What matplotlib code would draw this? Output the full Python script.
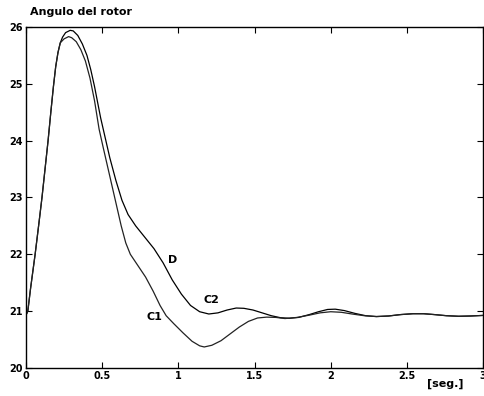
import numpy as np
import matplotlib.pyplot as plt

# curva D / C2 (superior)
t_d = [0, 0.012, 0.03, 0.06, 0.085, 0.105, 0.125, 0.145, 0.163, 0.18, 0.195, 0.21,
       0.225, 0.24, 0.26, 0.29, 0.31, 0.34, 0.37, 0.40, 0.425, 0.45, 0.49, 0.52,
       0.55, 0.59, 0.63, 0.67, 0.72, 0.78, 0.84, 0.90, 0.96, 1.02, 1.08, 1.14,
       1.20, 1.26, 1.32, 1.38, 1.43, 1.49, 1.55, 1.61, 1.67, 1.73, 1.79, 1.86,
       1.92, 1.98, 2.03, 2.09, 2.16, 2.23, 2.30, 2.38, 2.46, 2.54, 2.61, 2.68,
       2.76, 2.84, 2.92, 3.0]
ang_d = [20.93, 21.0, 21.4, 22.0, 22.55, 23.0, 23.5, 24.0, 24.5, 24.95, 25.3, 25.55,
         25.72, 25.82, 25.9, 25.94, 25.93, 25.85, 25.7, 25.5, 25.25, 24.95, 24.4, 24.05,
         23.7, 23.3, 22.95, 22.7, 22.5, 22.3, 22.1, 21.85, 21.55, 21.3, 21.1, 20.99,
         20.95, 20.97, 21.02, 21.055, 21.05, 21.02, 20.97, 20.92, 20.885, 20.875, 20.89, 20.94,
         20.99, 21.03, 21.035, 21.01, 20.96, 20.92, 20.905, 20.915, 20.94, 20.955, 20.955, 20.94,
         20.92, 20.91, 20.915, 20.925]

# curva C1 (inferior)
t_c1 = [0, 0.012, 0.03, 0.06, 0.085, 0.105, 0.125, 0.145, 0.163, 0.18, 0.195, 0.21,
        0.225, 0.25, 0.28, 0.30, 0.33, 0.36, 0.39, 0.42, 0.45, 0.48, 0.505, 0.535,
        0.565, 0.595, 0.625, 0.655, 0.685, 0.735, 0.785, 0.835, 0.88, 0.92, 0.97, 1.03,
        1.09, 1.14, 1.17, 1.22, 1.28, 1.34, 1.40, 1.46, 1.52, 1.58, 1.64, 1.70,
        1.78, 1.86, 1.93, 2.0, 2.07, 2.14, 2.22, 2.30, 2.38, 2.46, 2.54, 2.61,
        2.68, 2.76, 2.84, 2.92, 3.0]
ang_c1 = [20.93, 21.0, 21.4, 22.0, 22.55, 23.0, 23.5, 24.0, 24.5, 24.95, 25.3, 25.55,
          25.72, 25.79, 25.83, 25.81, 25.74, 25.6, 25.4, 25.1, 24.7, 24.2, 23.9, 23.55,
          23.2, 22.85, 22.5, 22.2, 22.0, 21.8, 21.6, 21.35, 21.1, 20.92, 20.78, 20.62,
          20.47, 20.39, 20.37, 20.4, 20.48, 20.6, 20.72, 20.82, 20.88, 20.895, 20.89, 20.87,
          20.89, 20.93, 20.97, 20.99, 20.98, 20.95, 20.92, 20.905, 20.915, 20.94, 20.955, 20.955,
          20.94, 20.92, 20.91, 20.915, 20.925]

xticks = [0, 0.5, 1, 1.5, 2, 2.5, 3]
xlabels = ['0', '0.5', '1', '1.5', '2', '2.5', '3']
yticks = [20, 21, 22, 23, 24, 25, 26]

fig = plt.figure(figsize=(4.84, 3.96), dpi=100)
ax = fig.add_axes([0.0537, 0.0707, 0.9443, 0.8613])
ax.plot(t_d, ang_d, 'k', lw=0.9)
ax.plot(t_c1, ang_c1, color='#222222', lw=0.9)
ax.set_xlim(0, 3)
ax.set_ylim(20, 26)
ax.set_xticks(xticks)
ax.set_xticklabels(xlabels)
ax.set_yticks(yticks)
ax.tick_params(direction='in', top=True, right=True, length=4, width=0.8,
               labelsize=7, pad=2)
for lab in ax.get_xticklabels() + ax.get_yticklabels():
    lab.set_fontweight('bold')
for s in ax.spines.values():
    s.set_linewidth(1.0)

ax.text(0.96, 21.9, 'D', fontsize=8, fontweight='bold', ha='center', va='center')
ax.text(1.22, 21.2, 'C2', fontsize=8, fontweight='bold', ha='center', va='center')
ax.text(0.84, 20.9, 'C1', fontsize=8, fontweight='bold', ha='center', va='center')

fig.text(30/484, 1-12/396, 'Angulo del rotor', fontsize=8, fontweight='bold',
         ha='left', va='center')
fig.text(445/484, 1-384/396, '[seg.]', fontsize=8, fontweight='bold',
         ha='center', va='center')

fig.savefig('out.png', dpi=100)
